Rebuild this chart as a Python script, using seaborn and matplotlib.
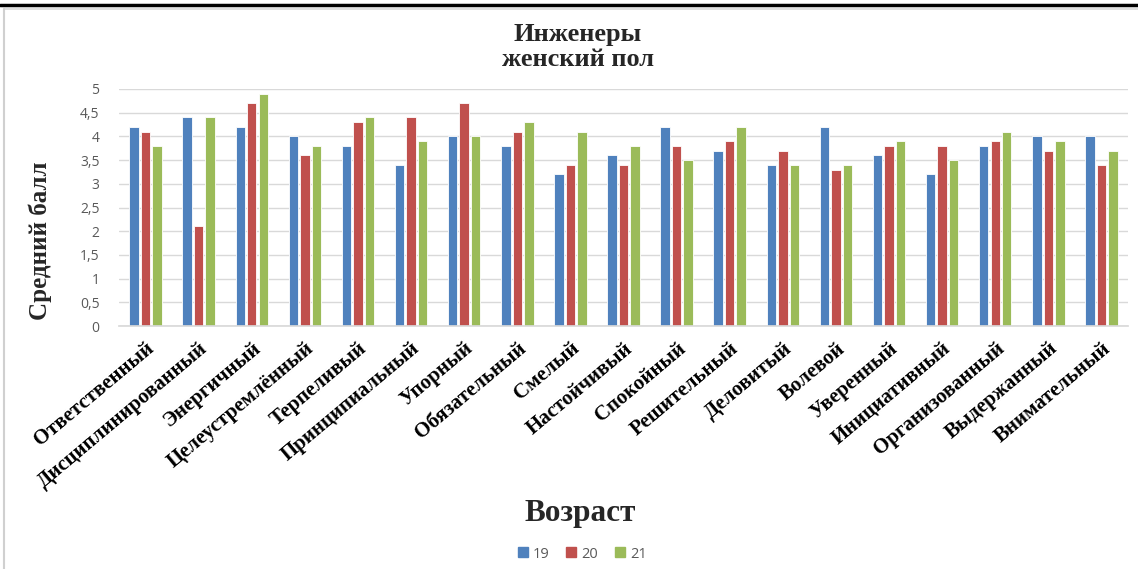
import matplotlib
matplotlib.use("Agg")
import matplotlib.pyplot as plt
from matplotlib.lines import Line2D
import seaborn as sns
import pandas as pd

# Personal qualities rated by female engineers, by age
qualities = [
    "Ответственный", "Дисциплинированный", "Энергичный", "Целеустремлённый",
    "Терпеливый", "Принципиальный", "Упорный", "Обязательный", "Смелый",
    "Настойчивый", "Спокойный", "Решительный", "Деловитый", "Волевой",
    "Уверенный", "Инициативный", "Организованный", "Выдержанный", "Внимательный",
]
ages = ["19", "20", "21"]
age19 = [4.2, 4.4, 4.2, 4.0, 3.8, 3.4, 4.0, 3.8, 3.2, 3.6, 4.2, 3.7, 3.4, 4.2, 3.6, 3.2, 3.8, 4.0, 4.0]
age20 = [4.1, 2.1, 4.7, 3.6, 4.3, 4.4, 4.7, 4.1, 3.4, 3.4, 3.8, 3.9, 3.7, 3.3, 3.8, 3.8, 3.9, 3.7, 3.4]
age21 = [3.8, 4.4, 4.9, 3.8, 4.4, 3.9, 4.0, 4.3, 4.1, 3.8, 3.5, 4.2, 3.4, 3.4, 3.9, 3.5, 4.1, 3.9, 3.7]
yticks = [0, 0.5, 1, 1.5, 2, 2.5, 3, 3.5, 4, 4.5, 5]
ytick_labels = ["0", "0,5", "1", "1,5", "2", "2,5", "3", "3,5", "4", "4,5", "5"]

colors = ["#4F81BD", "#C0504D", "#9BBB59"]

df = pd.DataFrame({
    "quality": qualities * 3,
    "age": [ages[0]] * len(qualities) + [ages[1]] * len(qualities) + [ages[2]] * len(qualities),
    "score": age19 + age20 + age21,
})

sns.set_theme(style="white")
plt.rcParams["font.family"] = ["Liberation Serif", "DejaVu Serif"]

W, H = 1138, 569
fig = plt.figure(figsize=(W / 100, H / 100), dpi=100)
ax = fig.add_axes([119 / W, 1 - 326 / H, (1128 - 119) / W, (326 - 89) / H])

sns.barplot(
    data=df, x="quality", y="score", hue="age", order=qualities, hue_order=ages,
    palette=colors, width=0.65, gap=0.18, saturation=1, edgecolor="white",
    linewidth=0.6, ax=ax, legend=False,
)

ax.set_xlim(-0.5, len(qualities) - 0.5)
ax.set_ylim(0, 5)
ax.set_yticks(yticks)
ax.set_yticklabels(ytick_labels, fontfamily="Open Sans", fontsize=10, color="#595959")
ax.yaxis.grid(True, color="#D9D9D9", linewidth=1)
ax.set_axisbelow(True)
for s in ["top", "right", "left"]:
    ax.spines[s].set_visible(False)
ax.spines["bottom"].set_color("#D9D9D9")
ax.tick_params(axis="y", length=0, pad=14)
ax.tick_params(axis="x", length=0, pad=9)
ax.set_xticks(range(len(qualities)))
ax.set_xticklabels(qualities, rotation=40, ha="right", rotation_mode="anchor",
                   fontsize=15, fontweight="bold", color="black")
ax.set_xlabel("")
ax.set_ylabel("")

fig.text(40 / W, 1 - 241 / H, "Средний балл", rotation=90, ha="center", va="center",
         fontsize=18, fontweight="bold")
fig.text(578 / W, 1 - 34 / H, "Инженеры", ha="center", va="center",
         fontsize=19, fontweight="bold")
fig.text(578 / W, 1 - 60 / H, "женский пол", ha="center", va="center",
         fontsize=19, fontweight="bold")
fig.text(580 / W, 1 - 513 / H, "Возраст", ha="center", va="center",
         fontsize=22.5, fontweight="bold")

handles = [Line2D([], [], marker="s", linestyle="none", markersize=7,
                  markerfacecolor=c, markeredgecolor=c) for c in colors]
leg = fig.legend(handles, ages, loc="center", bbox_to_anchor=(582 / W, 1 - 554 / H),
                 ncol=3, frameon=False, handlelength=0.8, handletextpad=0.3,
                 columnspacing=1.1, prop={"family": "Open Sans", "size": 10.5})
for t in leg.get_texts():
    t.set_color("#595959")

# chart area border (top and left) and the rule above it
fig.lines.append(Line2D([4 / W, 1], [1 - 9 / H, 1 - 9 / H], transform=fig.transFigure,
                        color="#D9D9D9", linewidth=1.2))
fig.lines.append(Line2D([4 / W, 4 / W], [0, 1 - 9 / H], transform=fig.transFigure,
                        color="#D0D0D0", linewidth=1.5))
fig.lines.append(Line2D([0, 1], [1 - 5 / H, 1 - 5 / H], transform=fig.transFigure,
                        color="black", linewidth=2.5))

fig.savefig("out.png", dpi=100, facecolor="white")
